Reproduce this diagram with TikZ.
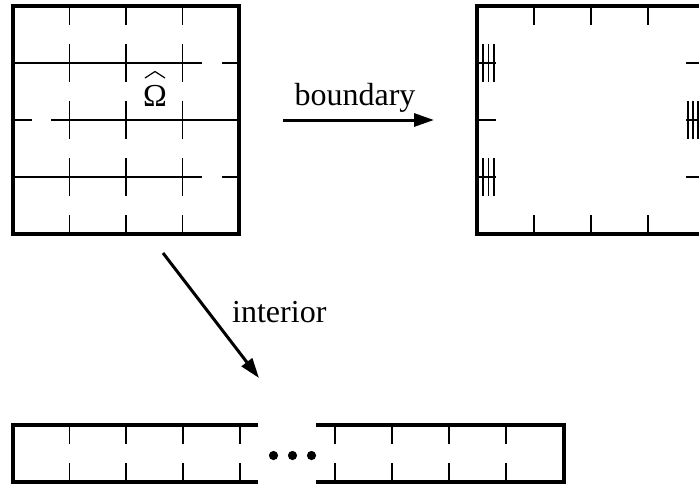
\documentclass[tikz,border=0pt]{standalone}
\usepackage{fontspec}
\setmainfont{Liberation Serif}
\usetikzlibrary{arrows.meta}
\begin{document}
\begin{tikzpicture}[x=1pt,y=-1pt,
  border/.style={line width=4pt,line join=miter},
  gridline/.style={line width=1.3pt},
  arrowline/.style={line width=3pt,-{Triangle[length=20pt,width=13pt]}},
  lbl/.style={font=\fontsize{32}{38}\selectfont,inner sep=0pt}]
\clip (0,0) rectangle (699,485);
\fill[white] (0,0) rectangle (699,485);
% ---------- left square (Omega hat) ----------
\coordinate (A) at (13,6);
\coordinate (B) at (239,234);
\draw[border] (A) rectangle (B);
\foreach \x in {69.5,126,182.5}{
  \foreach \a/\b in {6/25,44/82,101/139,158/196,215/234}{
    \draw[gridline] (\x,\a) -- (\x,\b);
  }
}
\foreach \y in {63,177}{
  \draw[gridline] (13,\y) -- (202,\y);
  \draw[gridline] (222,\y) -- (239,\y);
}
\draw[gridline] (13,120) -- (32,120);
\draw[gridline] (51,120) -- (239,120);
\node[lbl,anchor=base] (omega) at (155,106) {Ω};
\draw[line width=1.2pt] (145,78) -- (155,71.5) -- (165,78);
% ---------- right square (boundary) ----------
\coordinate (C) at (477,6);
\coordinate (D) at (703,234);
\draw[border] (C) rectangle (D);
\foreach \x in {534,591,648}{
  \draw[gridline] (\x,6) -- (\x,25);
  \draw[gridline] (\x,215) -- (\x,234);
}
\foreach \y in {63,120,177}{
  \draw[gridline] (477,\y) -- (496,\y);
  \draw[gridline] (686,\y) -- (703,\y);
}
\foreach \y in {63,177}{
  \foreach \x in {483,488.5,494}{
    \draw[gridline] (\x,\y-19) -- (\x,\y+19);
  }
}
\foreach \x in {688,693,698}{
  \draw[gridline] (\x,101) -- (\x,139);
}
% ---------- bottom strip (interior) ----------
\draw[border] (258,425) -- (13,425) -- (13,482) -- (258,482);
\draw[border] (316,425) -- (564,425) -- (564,482) -- (316,482);
\foreach \x in {69.5,126,183,240,335,392,449,506}{
  \draw[gridline] (\x,425) -- (\x,444);
  \draw[gridline] (\x,463) -- (\x,482);
}
\foreach \x in {273.5,292.5,311.5}{
  \fill (\x,455.5) circle (4.6);
}
% ---------- arrows ----------
\coordinate (b1) at (283,120);
\coordinate (b2) at (434,120);
\draw[arrowline] (b1) -- (b2);
\node[lbl,anchor=base] (blabel) at (355,105) {boundary};
\coordinate (i1) at (163,253);
\coordinate (i2) at (259,378);
\draw[arrowline] (i1) -- (i2);
\node[lbl,anchor=base west] (ilabel) at (232,322) {interior};
\end{tikzpicture}
\end{document}
